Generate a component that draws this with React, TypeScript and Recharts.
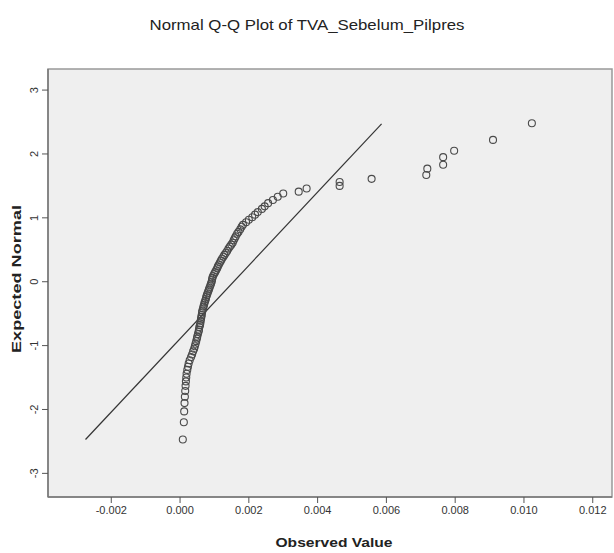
import {
  ScatterChart, Scatter, XAxis, YAxis, CartesianGrid, ReferenceLine, ReferenceArea,
} from "recharts";

const observed = [
  0.00008, 0.00011, 0.00012, 0.00013, 0.00014, 0.00015, 0.00016, 0.00017, 0.00018, 0.00019,
  0.00021, 0.00023, 0.00025, 0.00028, 0.00032, 0.00035, 0.00038, 0.00041, 0.00043, 0.00045,
  0.00047, 0.00049, 0.0005, 0.00052, 0.00054, 0.00055, 0.00056, 0.00058, 0.00059, 0.0006,
  0.00061, 0.00062, 0.00063, 0.00064, 0.00065, 0.00067, 0.00068, 0.0007, 0.00071, 0.00073,
  0.00075, 0.00076, 0.00078, 0.0008, 0.00082, 0.00084, 0.00086, 0.00088, 0.0009, 0.00092,
  0.00093, 0.00094, 0.00096, 0.00099, 0.00102, 0.00105, 0.00108, 0.0011, 0.00113, 0.00116,
  0.00119, 0.00122, 0.00126, 0.00129, 0.00133, 0.00137, 0.00141, 0.00145, 0.00149, 0.00153,
  0.00156, 0.00159, 0.00162, 0.00166, 0.0017, 0.00175, 0.00179, 0.00183, 0.00192, 0.002,
  0.0021, 0.00218, 0.00226, 0.00238, 0.00246, 0.00256, 0.0027, 0.00284, 0.003, 0.00345,
  0.00368, 0.00464, 0.00464, 0.00557, 0.00716, 0.00719, 0.00765, 0.00765, 0.00797, 0.0091,
  0.01023,
];

const expected = [
  -2.47, -2.2, -2.03, -1.9, -1.8, -1.71, -1.63, -1.56, -1.5, -1.44,
  -1.38, -1.33, -1.28, -1.23, -1.18, -1.14, -1.09, -1.05, -1.01, -0.97,
  -0.93, -0.89, -0.86, -0.82, -0.78, -0.75, -0.71, -0.68, -0.65, -0.61,
  -0.58, -0.55, -0.52, -0.48, -0.45, -0.42, -0.39, -0.36, -0.33, -0.3,
  -0.27, -0.24, -0.21, -0.18, -0.15, -0.12, -0.09, -0.06, -0.03, 0.0,
  0.03, 0.06, 0.09, 0.12, 0.15, 0.18, 0.21, 0.24, 0.27, 0.3,
  0.33, 0.36, 0.39, 0.42, 0.45, 0.48, 0.52, 0.55, 0.58, 0.61,
  0.65, 0.68, 0.71, 0.75, 0.78, 0.82, 0.86, 0.89, 0.93, 0.97,
  1.01, 1.05, 1.09, 1.14, 1.18, 1.23, 1.28, 1.33, 1.38, 1.41,
  1.46, 1.5, 1.56, 1.61, 1.67, 1.77, 1.83, 1.95, 2.05, 2.22,
  2.48,
];

// line ends
const refLineX = [-0.00275, 0.00586];
const refLineY = [-2.47, 2.47];

const xTicks = [-0.002, 0, 0.002, 0.004, 0.006, 0.008, 0.01, 0.012];
const yTicks = [-3, -2, -1, 0, 1, 2, 3];

const xDomain = [-0.00384, 0.01256];
const yDomain = [-3.37, 3.33];

const font = "'Liberation Sans', Arial, sans-serif";

function YTick({ x, y, payload }: any) {
  return (
    <text
      x={x - 2}
      y={y}
      transform={`rotate(-90 ${x - 2} ${y})`}
      textAnchor="middle"
      fontSize={11}
      fontFamily={font}
      fill="#333"
    >
      {payload.value}
    </text>
  );
}

const Dot = (props: any) => (
  <circle cx={props.cx} cy={props.cy} r={3.5} fill="none" stroke="#4a4a4a" strokeWidth={1.1} />
);

export default function App() {
  const points = observed.map((v, i) => ({ x: v, y: expected[i] }));

  return (
    <div style={{ position: "absolute", left: 0, top: 0, width: 614, height: 553, background: "#fff", fontFamily: font }}>
      <div
        style={{
          position: "absolute", left: 307, top: 24, transform: "translate(-50%, -50%) scaleX(1.12)",
          whiteSpace: "nowrap", fontSize: 15, color: "#222",
        }}
      >
        Normal Q-Q Plot of TVA_Sebelum_Pilpres
      </div>
      <div
        style={{
          position: "absolute", left: 17, top: 279, transform: "translate(-50%, -50%) rotate(-90deg) scaleX(1.45)",
          whiteSpace: "nowrap", fontSize: 12.5, fontWeight: "bold", color: "#222",
        }}
      >
        Expected Normal
      </div>
      <div
        style={{
          position: "absolute", left: 334, top: 542, transform: "translate(-50%, -50%) scaleX(1.2)",
          whiteSpace: "nowrap", fontSize: 13, fontWeight: "bold", color: "#222",
        }}
      >
        Observed Value
      </div>
      <ScatterChart width={614} height={553} margin={{ top: 69, right: 2, bottom: 0, left: 8 }}>
        <CartesianGrid fill="#efefef" horizontal={false} vertical={false} />
        <ReferenceArea
          x1={xDomain[0]} x2={xDomain[1]} y1={yDomain[0]} y2={yDomain[1]}
          fill="none" stroke="#999" strokeWidth={1.5} ifOverflow="visible"
        />
        <XAxis
          type="number" dataKey="x" domain={xDomain} ticks={xTicks} allowDataOverflow
          height={56} tickSize={6} tickMargin={3}
          tickFormatter={(v: number) => v.toFixed(3)}
          tick={{ fontSize: 11, fill: "#333", fontFamily: font }}
          axisLine={{ stroke: "#777", strokeWidth: 1.5 }} tickLine={{ stroke: "#555" }}
        />
        <YAxis
          type="number" dataKey="y" domain={yDomain} ticks={yTicks} allowDataOverflow
          width={40} tickSize={6} tick={<YTick />}
          axisLine={{ stroke: "#777", strokeWidth: 1.5 }} tickLine={{ stroke: "#555" }}
        />
        <ReferenceLine
          segment={[{ x: refLineX[0], y: refLineY[0] }, { x: refLineX[1], y: refLineY[1] }]}
          stroke="#333" strokeWidth={1.2}
        />
        <Scatter data={points} shape={<Dot />} isAnimationActive={false} />
      </ScatterChart>
    </div>
  );
}
